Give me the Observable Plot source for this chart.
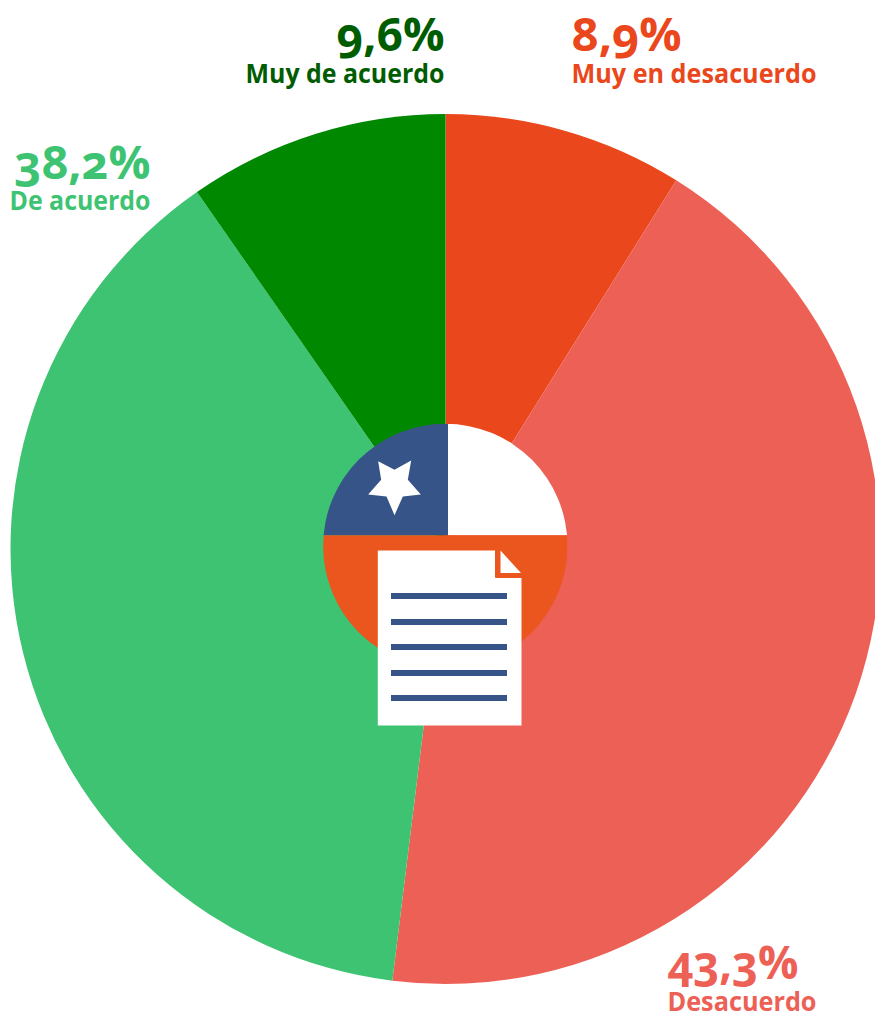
<!DOCTYPE html>
<html lang="es">
<head>
<meta charset="utf-8">
<script src="https://cdn.jsdelivr.net/npm/d3@7"></script>
<script src="https://cdn.jsdelivr.net/npm/@observablehq/plot@0.6"></script>
<style>
html,body{margin:0;padding:0;background:#fff;overflow:hidden}
svg{display:block}
.pct text{font-feature-settings:"onum" 1;font-variant-numeric:oldstyle-nums}
</style>
</head>
<body>
<div id="chart"></div>
<script>
// Data
const categories = ["Muy en desacuerdo", "Desacuerdo", "De acuerdo", "Muy de acuerdo"];
const printedPercent = ["8,9%", "43,3%", "38,2%", "9,6%"];
// slice sizes as measured from the angles in the picture
const sliceShares = [8.9, 43.05, 38.37, 9.68];
const sliceColors = ["#EA471D", "#ED6056", "#3DC372", "#008900"];
const labelColors = ["#EA471D", "#ED6056", "#3DC372", "#005C00"];

// Layout (pixel space: x and y scales are identity over the page)
const W = 875, H = 1012;
const pie = {cx: 445.5, cy: 549, r: 435};
const labelPos = [
  {x: 571, anchor: "start", pctY: 50, nameY: 82, pctW: 110, nameW: 245},
  {x: 667, anchor: "start", pctY: 978, nameY: 1010, pctW: 131, nameW: 149},
  {x: 150, anchor: "end", pctY: 178, nameY: 209, pctW: 136, nameW: 141},
  {x: 444, anchor: "end", pctY: 50, nameY: 82, pctW: 108, nameW: 199}
];
const flag = {cx: 445.3, cy: 546, r: 122.2, splitX: 448, splitY: 535.3};
const pt = (x, y) => ({x, y});
const star = [[203,152],[252,178],[302,150],[292,208],[331,252],[277,258],[252,314],[228,258],[173,252],[212,208]]
  .map(([x, y]) => pt(310 + x / 3, 410 + y / 3));
const docBody = [pt(377.3,550),pt(495,550),pt(495,577.5),pt(521,577.5),pt(521,725),pt(377.3,725)];
const docFold = [pt(500,550),pt(500,572.5),pt(520.5,572.5)];
const docLineY = [596, 622, 647, 673, 698];

const slices = d3.pie().sort(null)(sliceShares).map((a, i) => ({
  category: categories[i], start: a.startAngle, end: a.endAngle
}));
const labels = categories.map((c, i) => ({category: c, pct: printedPercent[i], color: labelColors[i], ...labelPos[i]}));

// Pie wedges through Plot's channels; d3.arc shapes each one
const wedge = Plot.dot(slices, {
  x: () => pie.cx, y: () => pie.cy, fill: "category",
  render(index, scales, values) {
    const g = d3.create("svg:g");
    const arc = d3.arc().innerRadius(0).outerRadius(pie.r);
    for (const i of index) {
      g.append("path")
        .attr("transform", `translate(${values.x[i]},${values.y[i]})`)
        .attr("d", arc({startAngle: slices[i].start, endAngle: slices[i].end}))
        .attr("fill", values.fill[i]);
    }
    return g.node();
  }
});

// Flag quadrants are rects clipped to a circle
const flagRects = [
  {x1: flag.cx - flag.r, x2: flag.splitX, y1: flag.cy - flag.r, y2: flag.splitY, c: "#375488"},
  {x1: flag.splitX, x2: flag.cx + flag.r, y1: flag.cy - flag.r, y2: flag.splitY, c: "#FFFFFF"},
  {x1: flag.cx - flag.r, x2: flag.cx + flag.r, y1: flag.splitY, y2: flag.cy + flag.r, c: "#EB551E"}
];
const flagMark = Plot.rect(flagRects, {
  x1: "x1", x2: "x2", y1: "y1", y2: "y2", fill: "c",
  render(index, scales, values, dims, ctx, next) {
    const node = next(index, scales, values, dims, ctx);
    const wrap = d3.create("svg:g");
    const defs = wrap.append("clipPath").attr("id", "flagclip");
    defs.append("circle").attr("cx", flag.cx).attr("cy", flag.cy).attr("r", flag.r);
    wrap.attr("clip-path", "url(#flagclip)");
    wrap.node().appendChild(node);
    return wrap.node();
  }
});

const labelFont = {fontFamily: "'Open Sans', sans-serif", fontWeight: 700, lineAnchor: "bottom"};

// Fits each text to the width it has in the picture (the source face is narrower)
const fitted = (rows, widthKey) => function(index, scales, values, dims, ctx, next) {
  const node = next(index, scales, values, dims, ctx);
  d3.select(node).selectAll("text").each(function(i) {
    this.setAttribute("textLength", rows[i][widthKey]);
    this.setAttribute("lengthAdjust", "spacingAndGlyphs");
  });
  return node;
};
const labelMarks = ["start", "end"].flatMap(anchor => {
  const rows = labels.filter(d => d.anchor === anchor);
  return [
    Plot.text(rows, {x: "x", y: "pctY", text: "pct", textAnchor: anchor, fill: "color", fontSize: 46, className: "pct", render: fitted(rows, "pctW"), ...labelFont}),
    Plot.text(rows, {x: "x", y: "nameY", text: "category", textAnchor: anchor, fill: "color", fontSize: 27, render: fitted(rows, "nameW"), ...labelFont})
  ];
});

const chart = Plot.plot({
  width: W, height: H, margin: 0,
  style: {background: "#fff", overflow: "hidden"},
  x: {type: "identity", axis: null},
  y: {type: "identity", axis: null},
  color: {domain: categories, range: sliceColors},
  marks: [
    wedge,
    flagMark,
    Plot.line(star, {x: "x", y: "y", fill: "#fff", stroke: null}),
    Plot.line(docBody, {x: "x", y: "y", fill: "#fff", stroke: null}),
    Plot.rect([{}], {x1: () => 495, x2: () => 521, y1: () => 550, y2: () => 577.5, fill: "#EB551E"}),
    Plot.line(docFold, {x: "x", y: "y", fill: "#fff", stroke: null}),
    Plot.rect(docLineY, {x1: () => 391, x2: () => 507, y1: d => d - 3, y2: d => d + 3, fill: "#375488"}),
    ...labelMarks
  ]
});
document.getElementById("chart").append(chart);
</script>
</body>
</html>
